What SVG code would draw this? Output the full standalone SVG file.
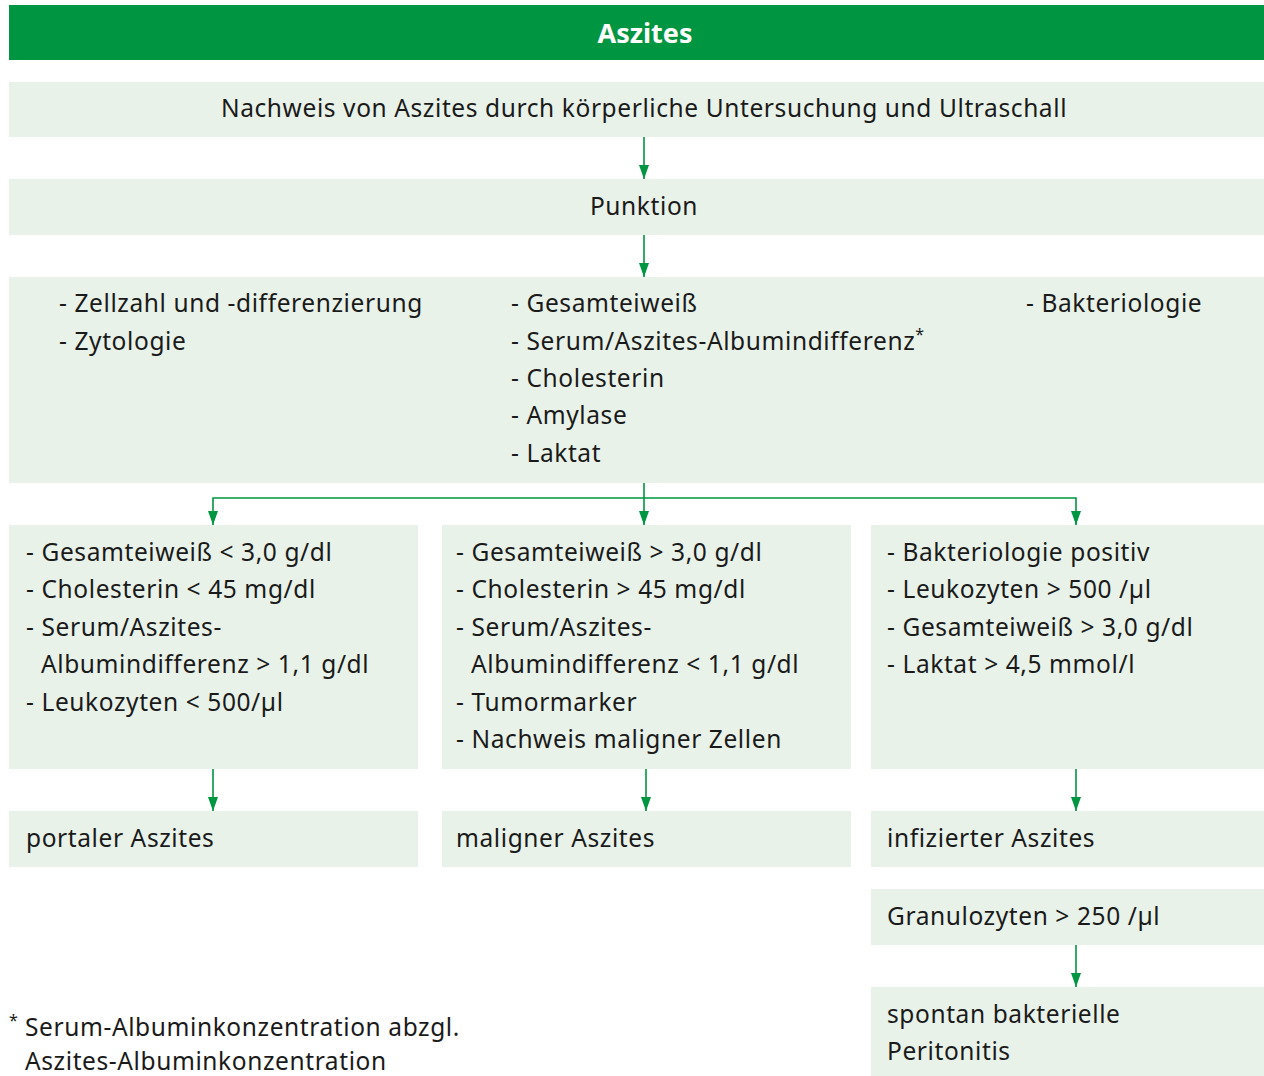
<svg xmlns="http://www.w3.org/2000/svg" width="1264" height="1076" viewBox="0 0 1264 1076">
<style>
.box{fill:#e8f2e9}
.t{font-family:"Noto Sans","Open Sans",sans-serif;font-size:24.5px;letter-spacing:0.6px;fill:#1a1a1a}
.c{text-anchor:middle}
.h{font-family:"Noto Sans","Open Sans",sans-serif;font-size:27px;font-weight:bold;fill:#ffffff;text-anchor:middle}
.ln{stroke:#009540;stroke-width:1.6;fill:none}
</style>
<defs>
<marker id="ah" markerWidth="14" markerHeight="10" refX="14" refY="5" orient="auto-start-reverse" markerUnits="userSpaceOnUse" viewBox="0 0 14 10">
<path d="M0,0 L14,5 L0,10 Z" fill="#009540"/>
</marker>
</defs>
<rect width="1264" height="1076" fill="#ffffff"/>
<g id="header">
<rect x="9" y="5" width="1255" height="55" fill="#009540"/>
<text class="h" x="645" y="43">Aszites</text>
</g>
<g id="n1">
<rect class="box" x="9" y="82" width="1255" height="55"/>
<text class="t c" x="644" y="117">Nachweis von Aszites durch körperliche Untersuchung und Ultraschall</text>
</g>
<g id="n2">
<rect class="box" x="9" y="179" width="1255" height="56"/>
<text class="t c" x="644" y="215">Punktion</text>
</g>
<g id="n3">
<rect class="box" x="9" y="277" width="1255" height="206"/>
<text class="t" x="59" y="312">- Zellzahl und -differenzierung</text>
<text class="t" x="59" y="350">- Zytologie</text>
<text class="t" x="511" y="312">- Gesamteiweiß</text>
<text class="t" x="511" y="350">- Serum/Aszites-Albumindifferenz<tspan dy="-10" font-size="16">*</tspan></text>
<text class="t" x="511" y="387">- Cholesterin</text>
<text class="t" x="511" y="424">- Amylase</text>
<text class="t" x="511" y="462">- Laktat</text>
<text class="t" x="1026" y="312">- Bakteriologie</text>
</g>
<g id="n4">
<rect class="box" x="9" y="525" width="409" height="244"/>
<text class="t" x="26" y="561">- Gesamteiweiß &lt; 3,0 g/dl</text>
<text class="t" x="26" y="598">- Cholesterin &lt; 45 mg/dl</text>
<text class="t" x="26" y="636">- Serum/Aszites-</text>
<text class="t" x="41" y="673">Albumindifferenz &gt; 1,1 g/dl</text>
<text class="t" x="26" y="711">- Leukozyten &lt; 500/µl</text>
</g>
<g id="n5">
<rect class="box" x="442" y="525" width="409" height="244"/>
<text class="t" x="456" y="561">- Gesamteiweiß &gt; 3,0 g/dl</text>
<text class="t" x="456" y="598">- Cholesterin &gt; 45 mg/dl</text>
<text class="t" x="456" y="636">- Serum/Aszites-</text>
<text class="t" x="471" y="673">Albumindifferenz &lt; 1,1 g/dl</text>
<text class="t" x="456" y="711">- Tumormarker</text>
<text class="t" x="456" y="748">- Nachweis maligner Zellen</text>
</g>
<g id="n6">
<rect class="box" x="871" y="525" width="393" height="244"/>
<text class="t" x="887" y="561">- Bakteriologie positiv</text>
<text class="t" x="887" y="598">- Leukozyten &gt; 500 /µl</text>
<text class="t" x="887" y="636">- Gesamteiweiß &gt; 3,0 g/dl</text>
<text class="t" x="887" y="673">- Laktat &gt; 4,5 mmol/l</text>
</g>
<g id="n7">
<rect class="box" x="9" y="811" width="409" height="56"/>
<text class="t" x="26" y="847">portaler Aszites</text>
</g>
<g id="n8">
<rect class="box" x="442" y="811" width="409" height="56"/>
<text class="t" x="456" y="847">maligner Aszites</text>
</g>
<g id="n9">
<rect class="box" x="871" y="811" width="393" height="56"/>
<text class="t" x="887" y="847">infizierter Aszites</text>
</g>
<g id="n10">
<rect class="box" x="871" y="889" width="393" height="56"/>
<text class="t" x="887" y="925">Granulozyten &gt; 250 /µl</text>
</g>
<g id="n11">
<rect class="box" x="871" y="987" width="393" height="89"/>
<text class="t" x="887" y="1023">spontan bakterielle</text>
<text class="t" x="887" y="1060">Peritonitis</text>
</g>
<g id="footnote">
<text class="t" x="9" y="1036"><tspan font-size="16" dy="-10">*</tspan><tspan x="25" dy="10">Serum-Albuminkonzentration abzgl.</tspan></text>
<text class="t" x="25" y="1070">Aszites-Albuminkonzentration</text>
</g>
<g id="connectors">
<line class="ln" x1="644" y1="137" x2="644" y2="179" marker-end="url(#ah)"/>
<line class="ln" x1="644" y1="235" x2="644" y2="277" marker-end="url(#ah)"/>
<line class="ln" x1="644" y1="483" x2="644" y2="525" marker-end="url(#ah)"/>
<polyline class="ln" points="213,525 213,498 1076,498 1076,525" marker-start="url(#ah)" marker-end="url(#ah)"/>
<line class="ln" x1="213" y1="769" x2="213" y2="811" marker-end="url(#ah)"/>
<line class="ln" x1="646" y1="769" x2="646" y2="811" marker-end="url(#ah)"/>
<line class="ln" x1="1076" y1="769" x2="1076" y2="811" marker-end="url(#ah)"/>
<line class="ln" x1="1076" y1="945" x2="1076" y2="987" marker-end="url(#ah)"/>
</g>
</svg>
